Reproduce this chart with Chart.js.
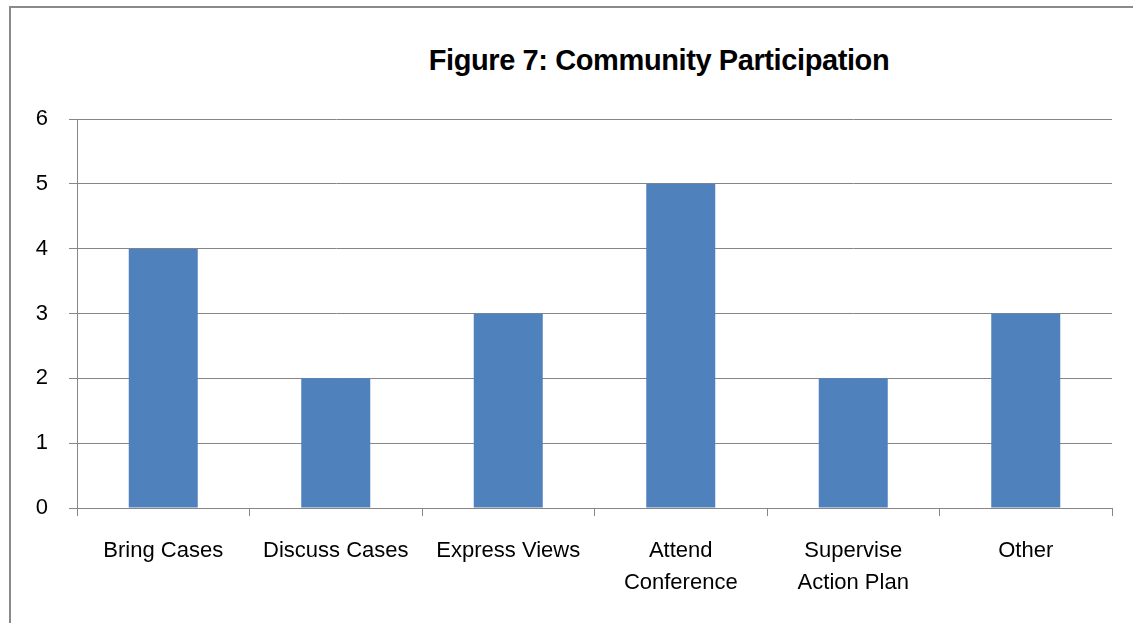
<!DOCTYPE html>
<html>
<head>
<meta charset="utf-8">
<script src="https://cdn.jsdelivr.net/npm/chart.js@4/dist/chart.umd.min.js"></script>
<style>
    html, body { margin: 0; padding: 0; background: #fff; overflow: hidden; }
    #wrap { position: relative; width: 1133px; height: 623px; }
    #frame {
        position: absolute; left: 9px; top: 6px; width: 1200px; height: 700px;
        border-left: 2px solid #8a8a8a; border-top: 2px solid #8a8a8a;
    }
    #title {
        position: absolute; left: 359px; width: 600px; top: 44px; text-align: center;
        font-family: "Liberation Sans", Arial, sans-serif; font-weight: bold; font-size: 29px; color: #000;
        letter-spacing: -0.4px;
    }
    #chart { position: absolute; left: 0; top: 0; }
</style>
</head>
<body>
<div id="wrap">
    <div id="frame"></div>
    <div id="title">Figure 7: Community Participation</div>
    <canvas id="chart" width="1133" height="623"></canvas>
</div>
<script>
const categories = ['Bring Cases', 'Discuss Cases', 'Express Views', ['Attend', 'Conference'], ['Supervise', 'Action Plan'], 'Other'];
const counts = [4, 2, 3, 5, 2, 3];
const yTicks = [0, 1, 2, 3, 4, 5, 6];

const gridColor = '#868686';
const labelFont = { family: '"Liberation Sans", Arial, sans-serif', size: 22, lineHeight: 1.45 };

document.addEventListener('DOMContentLoaded', () => {
    new Chart(document.getElementById('chart'), {
        type: 'bar',
        data: {
            labels: categories,
            datasets: [{
                label: 'Count',
                data: counts,
                backgroundColor: '#4F81BD',
                borderWidth: 0,
                categoryPercentage: 1,
                barPercentage: 0.4
            }]
        },
        options: {
            responsive: false,
            animation: false,
            layout: { padding: { top: 119, right: 21, left: 0, bottom: 0 } },
            plugins: {
                legend: { display: false },
                tooltip: { enabled: false },
                title: { display: false }
            },
            scales: {
                x: {
                    offset: true,
                    grid: { offset: true, drawOnChartArea: false, color: gridColor, tickLength: 8, lineWidth: 1 },
                    border: { color: gridColor, width: 1 },
                    ticks: { color: '#000', font: labelFont, padding: 19, maxRotation: 0, autoSkip: false },
                    afterFit: (scale) => { scale.height = 115; }
                },
                y: {
                    min: yTicks[0],
                    max: yTicks[yTicks.length - 1],
                    afterBuildTicks: (scale) => { scale.ticks = yTicks.map(v => ({ value: v })); },
                    grid: { color: gridColor, tickLength: 8, lineWidth: 1 },
                    border: { color: gridColor, width: 1 },
                    ticks: { color: '#000', font: labelFont, padding: 21 },
                    afterFit: (scale) => { scale.width = 77; }
                }
            }
        }
    });
});
</script>
</body>
</html>
